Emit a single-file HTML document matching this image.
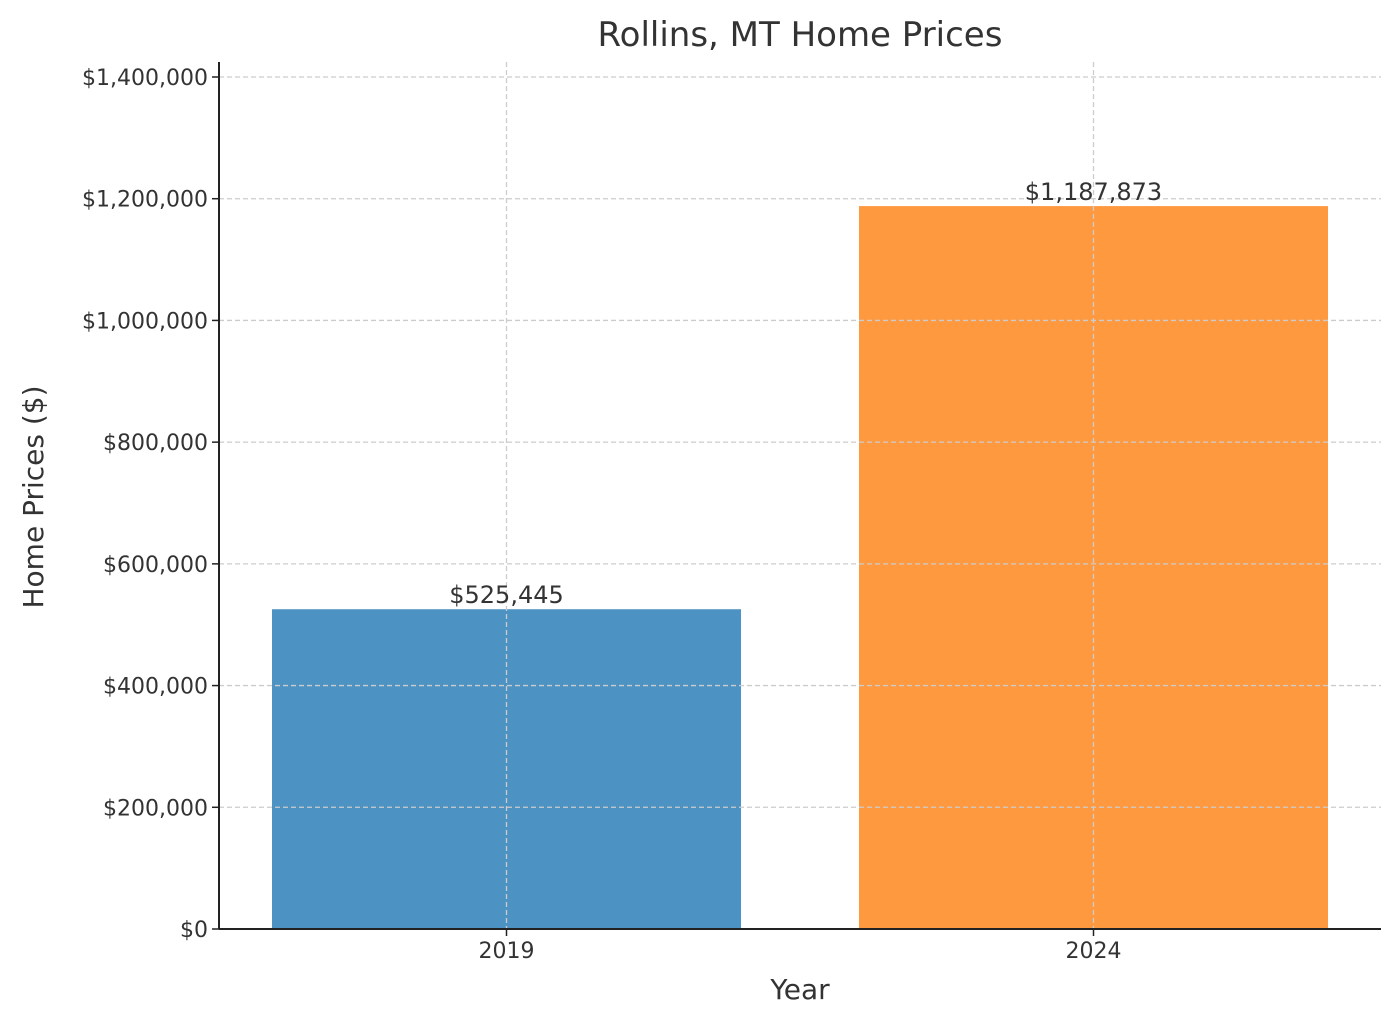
<!DOCTYPE html>
<html><head><meta charset="utf-8"><style>
body{margin:0;background:#fff;}
svg text{font-family:"DejaVu Sans","Liberation Sans",sans-serif;fill:#333;}
</style></head><body>
<svg id="chart" width="1400" height="1024" xmlns="http://www.w3.org/2000/svg">
<text x="800" y="46" font-size="34" text-anchor="middle">Rollins, MT Home Prices</text>
<text x="800" y="999" font-size="28" text-anchor="middle">Year</text>
<text transform="translate(43,497) rotate(-90)" font-size="28" text-anchor="middle">Home Prices ($)</text>
<g id="bars"></g><g id="grid"></g><g id="axes"></g><g id="labels"></g>
</svg>
<script>
const categories = ["2019", "2024"];
const values = [525445, 1187873];
const barLabels = ["$525,445", "$1,187,873"];
const yTicks = [0, 200000, 400000, 600000, 800000, 1000000, 1200000, 1400000];
const yTickLabels = ["$0","$200,000","$400,000","$600,000","$800,000","$1,000,000","$1,200,000","$1,400,000"];
const colors = ["#4c92c3", "#ff993f"];

const NS = "http://www.w3.org/2000/svg";
const L = 219, R = 1381, T = 62, B = 929;
const y = v => B - v * (B - 77) / 1400000;
const x = i => 506.5 + i * 587;
const bw = 469;
function mk(tag, attrs, parent, txt){const e=document.createElementNS(NS,tag);for(const k in attrs)e.setAttribute(k,attrs[k]);if(txt!==undefined)e.textContent=txt;parent.appendChild(e);return e;}
const gb=document.getElementById('bars'), gg=document.getElementById('grid'), ga=document.getElementById('axes'), gl=document.getElementById('labels');

categories.forEach((c,i)=>{
  const r=mk('rect',{x:x(i)-bw/2,y:y(values[i]),width:bw,height:B-y(values[i]),fill:colors[i]},gb);
  
  
  const t=mk('text',{x:x(i),y:y(values[i])-6,'font-size':24,'text-anchor':'middle'},gl,barLabels[i]);
  
  
  const g=mk('line',{x1:x(i),x2:x(i),y1:T,y2:B,stroke:'#ccc','stroke-width':1.3,'stroke-dasharray':'5,3'},gg);
  
  
  const tk=mk('line',{x1:x(i),x2:x(i),y1:B,y2:B+7,stroke:'#222','stroke-width':1.5},ga);
  
  
  const tl=mk('text',{x:x(i),y:B+29,'font-size':22,'text-anchor':'middle'},ga,c);
  
  
});
yTicks.forEach((v,i)=>{
  if(v>0){const g=mk('line',{x1:L,x2:R,y1:y(v),y2:y(v),stroke:'#ccc','stroke-width':1.3,'stroke-dasharray':'5,3'},gg);
  
  }
  const tk=mk('line',{x1:L-7,x2:L,y1:y(v),y2:y(v),stroke:'#222','stroke-width':1.5},ga);
  
  
  const tl=mk('text',{x:L-11,y:y(v)+8,'font-size':22,'text-anchor':'end'},ga,yTickLabels[i]);
  
  
});
const ys=mk('line',{x1:L,x2:L,y1:T,y2:B,stroke:'#222','stroke-width':2},ga);


const xs=mk('line',{x1:L,x2:R,y1:B,y2:B,stroke:'#222','stroke-width':2},ga);


</script>
</body></html>
